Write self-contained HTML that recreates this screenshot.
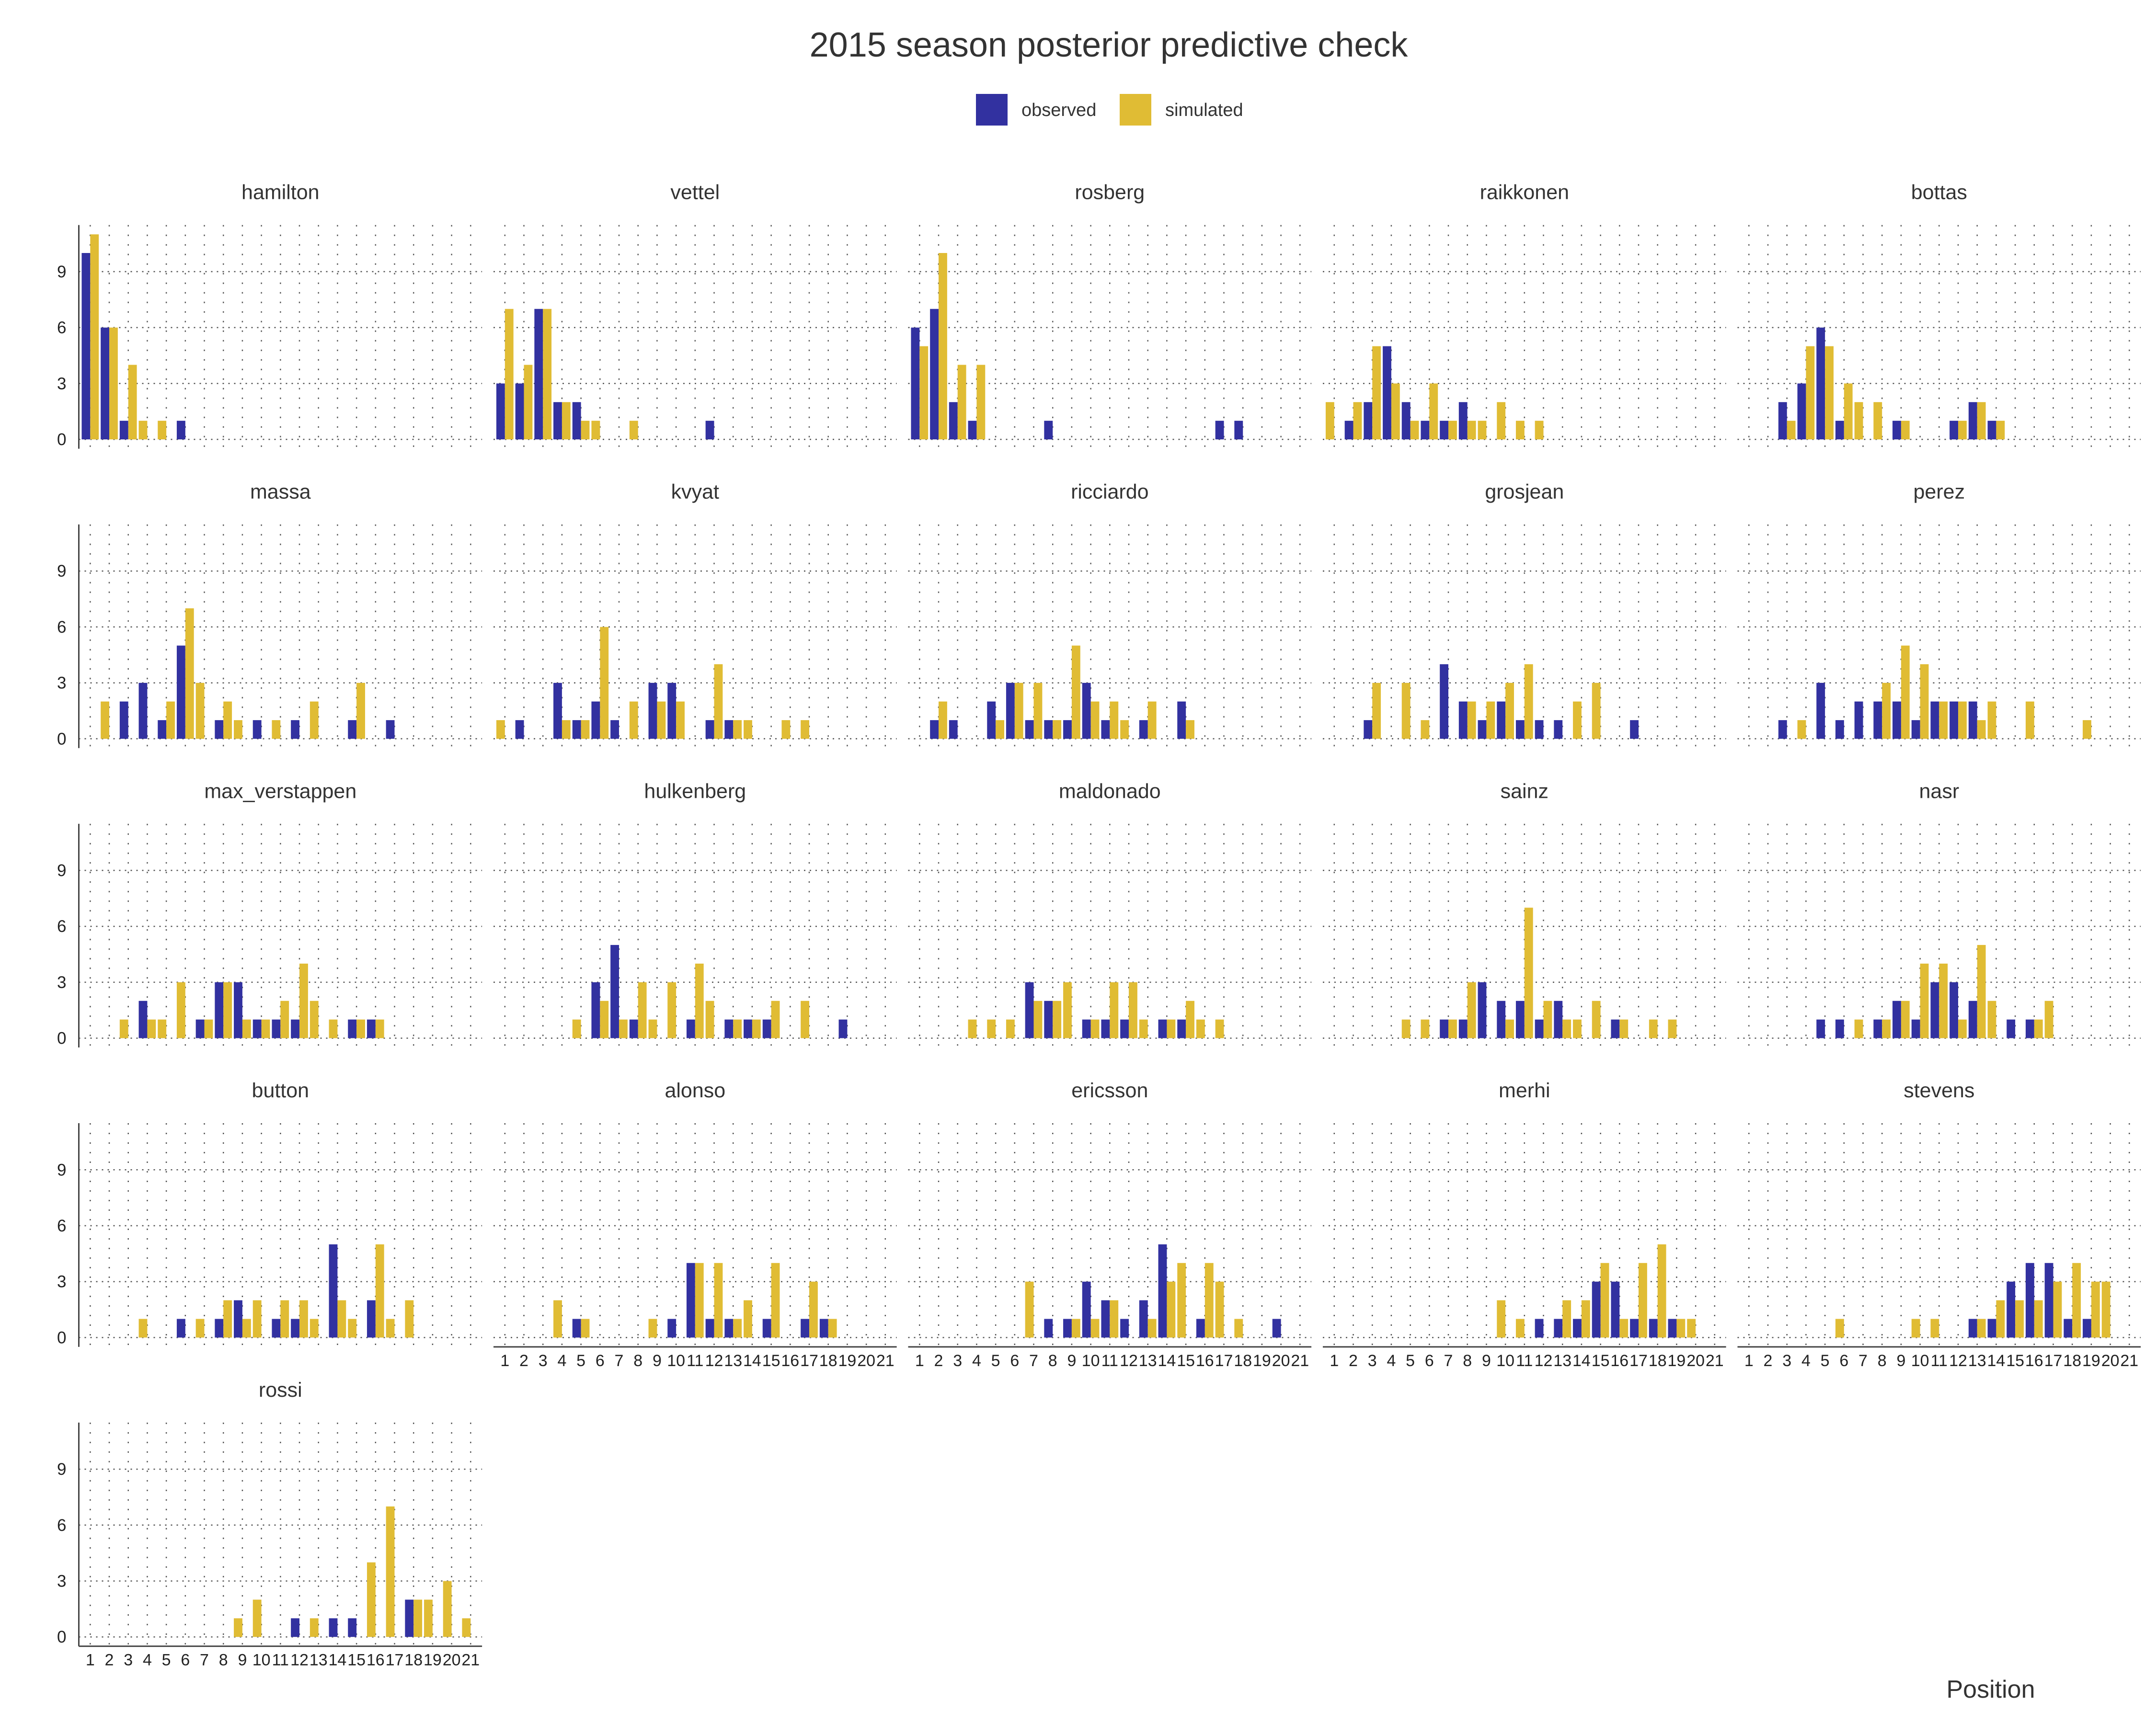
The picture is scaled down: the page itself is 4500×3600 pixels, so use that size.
<!DOCTYPE html>
<html><head><meta charset="utf-8"><style>
html,body{margin:0;padding:0;background:#fff;}
svg{display:block;font-family:"Liberation Sans",sans-serif;}
</style></head><body>
<svg id="chart" width="4500" height="3600" viewBox="0 0 4500 3600" xmlns="http://www.w3.org/2000/svg">
<rect width="4500" height="3600" fill="#ffffff"/>
<text x="2314" y="118" text-anchor="middle" font-size="72" fill="#333">2015 season posterior predictive check</text>
<g>
<rect x="2037" y="196" width="66" height="66" fill="#3231A0"/>
<text x="2132" y="242" font-size="38" fill="#333">observed</text>
<rect x="2337" y="196" width="66" height="66" fill="#E0BC34"/>
<text x="2432" y="242" font-size="38" fill="#333">simulated</text>
</g>
<text x="4155" y="3543" text-anchor="middle" font-size="52" fill="#333">Position</text>
<g id="panels"></g>
</svg>
<script>
const drivers = ["hamilton","vettel","rosberg","raikkonen","bottas","massa","kvyat","ricciardo","grosjean","perez","max_verstappen","hulkenberg","maldonado","sainz","nasr","button","alonso","ericsson","merhi","stevens","rossi"];
const positions = [1,2,3,4,5,6,7,8,9,10,11,12,13,14,15,16,17,18,19,20,21];
const yTicks = [0,3,6,9];
const observed = [
[10,6,1,0,0,1,0,0,0,0,0,0,0,0,0,0,0,0,0,0,0],
[3,3,7,2,2,0,0,0,0,0,0,1,0,0,0,0,0,0,0,0,0],
[6,7,2,1,0,0,0,1,0,0,0,0,0,0,0,0,1,1,0,0,0],
[0,1,2,5,2,1,1,2,0,0,0,0,0,0,0,0,0,0,0,0,0],
[0,0,2,3,6,1,0,0,1,0,0,1,2,1,0,0,0,0,0,0,0],
[0,0,2,3,1,5,0,1,0,1,0,1,0,0,1,0,1,0,0,0,0],
[0,1,0,3,1,2,1,0,3,3,0,1,1,0,0,0,0,0,0,0,0],
[0,1,1,0,2,3,1,1,1,3,1,0,1,0,2,0,0,0,0,0,0],
[0,0,1,0,0,0,4,2,1,2,1,1,1,0,0,0,1,0,0,0,0],
[0,0,1,0,3,1,2,2,2,1,2,2,2,0,0,0,0,0,0,0,0],
[0,0,0,2,0,0,1,3,3,1,1,1,0,0,1,1,0,0,0,0,0],
[0,0,0,0,0,3,5,1,0,0,1,0,1,1,1,0,0,0,1,0,0],
[0,0,0,0,0,0,3,2,0,1,1,1,0,1,1,0,0,0,0,0,0],
[0,0,0,0,0,0,1,1,3,2,2,1,2,0,0,1,0,0,0,0,0],
[0,0,0,0,1,1,0,1,2,1,3,3,2,0,1,1,0,0,0,0,0],
[0,0,0,0,0,1,0,1,2,0,1,1,0,5,0,2,0,0,0,0,0],
[0,0,0,0,1,0,0,0,0,1,4,1,1,0,1,0,1,1,0,0,0],
[0,0,0,0,0,0,0,1,1,3,2,1,2,5,0,1,0,0,0,1,0],
[0,0,0,0,0,0,0,0,0,0,0,1,1,1,3,3,1,1,1,0,0],
[0,0,0,0,0,0,0,0,0,0,0,0,1,1,3,4,4,1,1,0,0],
[0,0,0,0,0,0,0,0,0,0,0,1,0,1,1,0,0,2,0,0,0]
];
const simulated = [
[11,6,4,1,1,0,0,0,0,0,0,0,0,0,0,0,0,0,0,0,0],
[7,4,7,2,1,1,0,1,0,0,0,0,0,0,0,0,0,0,0,0,0],
[5,10,4,4,0,0,0,0,0,0,0,0,0,0,0,0,0,0,0,0,0],
[2,2,5,3,1,3,1,1,1,2,1,1,0,0,0,0,0,0,0,0,0],
[0,0,1,5,5,3,2,2,1,0,0,1,2,1,0,0,0,0,0,0,0],
[0,2,0,0,2,7,3,2,1,0,1,0,2,0,3,0,0,0,0,0,0],
[1,0,0,1,1,6,0,2,2,2,0,4,1,1,0,1,1,0,0,0,0],
[0,2,0,0,1,3,3,1,5,2,2,1,2,0,1,0,0,0,0,0,0],
[0,0,3,0,3,1,0,2,2,3,4,0,0,2,3,0,0,0,0,0,0],
[0,0,0,1,0,0,0,3,5,4,2,2,1,2,0,2,0,0,1,0,0],
[0,0,1,1,1,3,1,3,1,1,2,4,2,1,1,1,0,0,0,0,0],
[0,0,0,0,1,2,1,3,1,3,4,2,1,1,2,0,2,0,0,0,0],
[0,0,0,1,1,1,2,2,3,1,3,3,1,1,2,1,1,0,0,0,0],
[0,0,0,0,1,1,1,3,0,1,7,2,1,1,2,1,0,1,1,0,0],
[0,0,0,0,0,0,1,1,2,4,4,1,5,2,0,1,2,0,0,0,0],
[0,0,0,1,0,0,1,2,1,2,2,2,1,2,1,5,1,2,0,0,0],
[0,0,0,2,1,0,0,0,1,0,4,4,1,2,4,0,3,1,0,0,0],
[0,0,0,0,0,0,3,0,1,1,2,0,1,3,4,4,3,1,0,0,0],
[0,0,0,0,0,0,0,0,0,2,1,0,2,2,4,1,4,5,1,1,0],
[0,0,0,0,0,1,0,0,0,1,1,0,1,2,2,2,3,4,3,3,0],
[0,0,0,0,0,0,0,0,1,2,0,0,1,0,0,4,7,2,2,3,1]
];

const NS = "http://www.w3.org/2000/svg";
const root = document.getElementById("panels");
const colX0 = 164.5, colStep = 865.5, unitX = 39.7;
const rowZero0 = 917, rowStep = 624.8, unitY = 38.9;
const BLUE = "#3231A0", GOLD = "#E0BC34", GRID = "#555";
const barW = 0.45 * unitX;

function mk(tag, attrs, parent) {
  const e = document.createElementNS(NS, tag);
  for (const k in attrs) e.setAttribute(k, attrs[k]);
  parent.appendChild(e);
  return e;
}

drivers.forEach((name, i) => {
  const col = i % 5, row = Math.floor(i / 5);
  const ax = colX0 + col * colStep;
  const zero = rowZero0 + row * rowStep;
  const xs = p => ax + (p - 0.4) * unitX;
  const ys = v => zero - v * unitY;
  const top = ys(11.5), bottom = ys(-0.5);
  const right = xs(21.6);
  const g = mk("g", {}, root);
  
  

  const title = mk("text", {x: (ax + right) / 2, y: top - 54, "text-anchor": "middle", "font-size": 43, fill: "#333"}, g);
  title.textContent = name;
  
  

  positions.forEach(p => {
    const l = mk("line", {x1: xs(p), x2: xs(p), y1: top, y2: bottom, stroke: GRID, "stroke-width": 2.5, "stroke-dasharray": "3 17"}, g);
    
    
  });
  yTicks.forEach(t => {
    const l = mk("line", {x1: ax, x2: right, y1: ys(t), y2: ys(t), stroke: GRID, "stroke-width": 2.5, "stroke-dasharray": "3 9"}, g);
    
    
    if (col === 0) {
      const tx = mk("text", {x: ax - 26, y: ys(t) + 12, "text-anchor": "end", "font-size": 35, fill: "#222"}, g);
      tx.textContent = t;
      
      
    }
  });

  positions.forEach((p, j) => {
    const o = observed[i][j], s = simulated[i][j];
    const c = xs(p);
    if (o > 0) {
      const b = mk("rect", {x: c - barW, y: ys(o), width: barW, height: o * unitY, fill: BLUE}, g);
      
      
    }
    if (s > 0) {
      const sx = o > 0 ? c : c - barW;
      const b = mk("rect", {x: sx, y: ys(s), width: barW, height: s * unitY, fill: GOLD}, g);
      
      
    }
  });

  if (col === 0) {
    const a = mk("line", {x1: ax, x2: ax, y1: top, y2: bottom, stroke: "#444", "stroke-width": 3}, g);
    
    
  }
  const isBottom = (col === 0 && row === 4) || (col > 0 && row === 3);
  if (isBottom) {
    const a = mk("line", {x1: ax, x2: right, y1: bottom, y2: bottom, stroke: "#444", "stroke-width": 3}, g);
    
    
    positions.forEach(p => {
      const tx = mk("text", {x: xs(p), y: bottom + 40, "text-anchor": "middle", "font-size": 34, fill: "#222"}, g);
      tx.textContent = p;
      
      
    });
  }
});
</script>
</body></html>
